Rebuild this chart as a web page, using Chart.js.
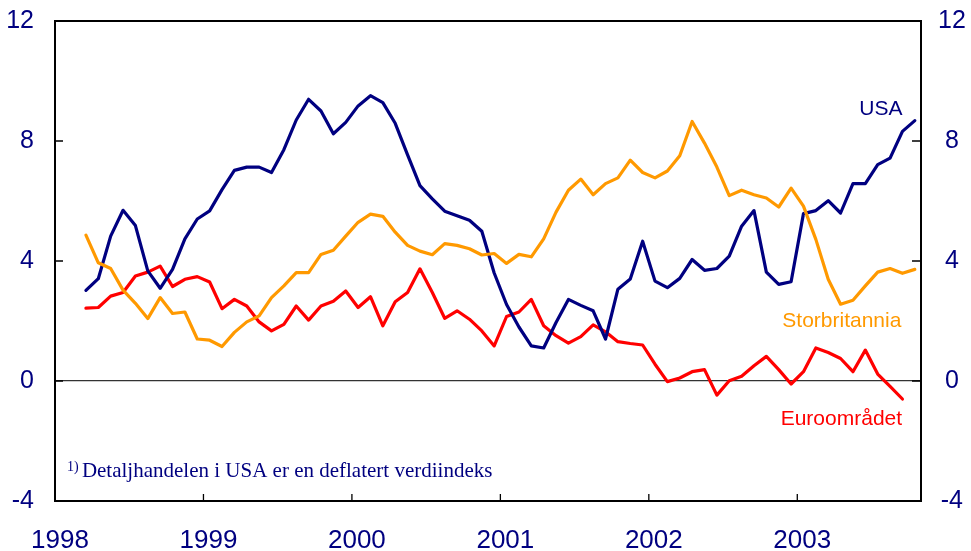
<!DOCTYPE html>
<html>
<head>
<meta charset="utf-8">
<script src="https://cdn.jsdelivr.net/npm/chart.js@4/dist/chart.umd.min.js"></script>
<style>
  html, body { margin: 0; padding: 0; background: #ffffff; }
  #wrap { width: 971px; height: 551px; }
</style>
</head>
<body>
<div id="wrap"><canvas id="c" width="971" height="551"></canvas></div>
<script>
// Monthly series, first observation March 1998
const startYear = 1998;
const startMonth = 3; // March
const yearTicks = [1998, 1999, 2000, 2001, 2002, 2003];
const yTicks = [-4, 0, 4, 8, 12];

const usa = [
  3.02, 3.41, 4.83, 5.69, 5.18, 3.67, 3.09, 3.72, 4.74, 5.40, 5.67, 6.38,
  7.02, 7.13, 7.13, 6.95, 7.71, 8.70, 9.39, 9.00, 8.24, 8.62, 9.17, 9.51,
  9.28, 8.59, 7.54, 6.51, 6.07, 5.66, 5.51, 5.36, 4.99, 3.60, 2.55, 1.80,
  1.17, 1.10, 1.95, 2.72, 2.52, 2.34, 1.40, 3.06, 3.40, 4.66, 3.33, 3.11,
  3.42, 4.05, 3.69, 3.75, 4.16, 5.16, 5.68, 3.63, 3.22, 3.31, 5.58, 5.68,
  6.01, 5.60, 6.58, 6.58, 7.21, 7.43, 8.32, 8.68
];
const storbritannia = [
  4.86, 3.94, 3.75, 3.03, 2.59, 2.08, 2.78, 2.25, 2.30, 1.40, 1.36, 1.15,
  1.62, 1.97, 2.17, 2.78, 3.17, 3.61, 3.61, 4.22, 4.36, 4.83, 5.29, 5.56,
  5.49, 4.96, 4.52, 4.33, 4.21, 4.58, 4.52, 4.41, 4.20, 4.25, 3.92, 4.22,
  4.14, 4.74, 5.63, 6.36, 6.73, 6.21, 6.58, 6.77, 7.36, 6.95, 6.77, 7.00,
  7.51, 8.65, 7.93, 7.13, 6.18, 6.36, 6.21, 6.10, 5.80, 6.43, 5.83, 4.72,
  3.39, 2.56, 2.69, 3.17, 3.63, 3.75, 3.59, 3.72
];
const euroomradet = [
  2.43, 2.45, 2.83, 2.95, 3.50, 3.63, 3.83, 3.15, 3.39, 3.48, 3.30, 2.41,
  2.72, 2.50, 1.97, 1.67, 1.89, 2.50, 2.03, 2.50, 2.66, 3.00, 2.45, 2.81,
  1.84, 2.64, 2.95, 3.74, 2.95, 2.09, 2.34, 2.06, 1.67, 1.17, 2.15, 2.30,
  2.72, 1.84, 1.51, 1.26, 1.48, 1.87, 1.64, 1.31, 1.25, 1.20, 0.56, -0.02,
  0.10, 0.31, 0.38, -0.47, 0.01, 0.16, 0.51, 0.82, 0.38, -0.10, 0.31, 1.10,
  0.95, 0.75, 0.31, 1.03, 0.23, -0.18, -0.60
];

const NAVY = '#000080';
const ORANGE = '#FF9900';
const RED = '#FF0000';

// time position of each monthly observation (middle of month, in years)
function toPoints(values) {
  return values.map((v, i) => ({
    x: startYear + (startMonth - 1 + i + 0.5) / 12,
    y: v
  }));
}

const annotations = [
  { text: 'USA', x: 2003.563, y: 9.07, color: NAVY },
  { text: 'Storbritannia', x: 2003.30, y: 1.99, color: ORANGE },
  { text: 'Euroområdet', x: 2003.297, y: -1.26, color: RED }
];

const overlay = {
  id: 'overlay',
  afterDatasetsDraw(chart) {
    const { ctx, chartArea: a, scales } = chart;
    const xs = scales.x, ys = scales.y;
    ctx.save();
    // frame
    ctx.strokeStyle = '#000';
    ctx.lineWidth = 2;
    ctx.strokeRect(a.left, a.top, a.right - a.left, a.bottom - a.top);
    // inward tick marks
    ctx.lineWidth = 1.3;
    ctx.beginPath();
    yTicks.forEach(v => {
      const p = ys.getPixelForValue(v);
      ctx.moveTo(a.left, p); ctx.lineTo(a.left + 8, p);
      ctx.moveTo(a.right, p); ctx.lineTo(a.right - 9, p);
    });
    yearTicks.forEach(v => {
      const p = xs.getPixelForValue(v);
      ctx.moveTo(p, a.bottom); ctx.lineTo(p, a.bottom - 7);
    });
    ctx.stroke();
    // series labels
    ctx.font = "21px 'Liberation Sans', Arial, sans-serif";
    ctx.textAlign = 'center';
    ctx.textBaseline = 'middle';
    annotations.forEach(t => {
      ctx.fillStyle = t.color;
      ctx.fillText(t.text, xs.getPixelForValue(t.x), ys.getPixelForValue(t.y));
    });
    // footnote
    ctx.fillStyle = NAVY;
    ctx.textAlign = 'left';
    ctx.textBaseline = 'alphabetic';
    const fx = xs.getPixelForValue(1998.08);
    const fy = ys.getPixelForValue(-3.2);
    ctx.font = "14px 'Liberation Serif', 'Times New Roman', serif";
    ctx.fillText('1)', fx, fy - 6);
    ctx.font = "21px 'Liberation Serif', 'Times New Roman', serif";
    ctx.fillText('Detaljhandelen i USA er en deflatert verdiindeks', fx + 15, fy);
    ctx.restore();
  }
};

const tickFont = { family: "'Liberation Sans', Arial, sans-serif", size: 25 };

new Chart(document.getElementById('c'), {
  type: 'line',
  data: {
    datasets: [
      { label: 'Storbritannia', data: toPoints(storbritannia), borderColor: ORANGE },
      { label: 'USA', data: toPoints(usa), borderColor: NAVY },
      { label: 'Euroområdet', data: toPoints(euroomradet), borderColor: RED }
    ]
  },
  options: {
    responsive: false,
    animation: false,
    devicePixelRatio: 1,
    layout: { padding: { top: 21, left: 0, right: 0, bottom: 0 } },
    elements: {
      line: { borderWidth: 3.2, tension: 0, borderJoinStyle: 'round', borderCapStyle: 'round' },
      point: { radius: 0 }
    },
    plugins: { legend: { display: false }, tooltip: { enabled: false } },
    scales: {
      x: {
        type: 'linear',
        min: 1998,
        max: 1998 + 70 / 12,
        grid: { display: false, drawTicks: false },
        border: { display: false },
        ticks: {
          stepSize: 1,
          includeBounds: false,
          autoSkip: false,
          maxRotation: 0,
          padding: 24,
          labelOffset: 5,
          color: NAVY,
          font: { family: "'Liberation Sans', Arial, sans-serif", size: 26 },
          callback: v => String(Math.round(v))
        },
        afterFit: s => { s.height = 50; s.paddingLeft = 0; s.paddingRight = 0; }
      },
      y: {
        position: 'left',
        min: -4, max: 12,
        grid: {
          drawTicks: false,
          lineWidth: 1.3,
          color: c => (c.tick && c.tick.value === 0) ? '#333333' : 'rgba(0,0,0,0)'
        },
        border: { display: false },
        ticks: { stepSize: 4, padding: 21, color: NAVY, font: tickFont, callback: v => String(v) },
        afterFit: s => { s.width = 55; s.paddingTop = 0; s.paddingBottom = 0; }
      },
      y2: {
        position: 'right',
        min: -4, max: 12,
        grid: { display: false, drawTicks: false },
        border: { display: false },
        ticks: { stepSize: 4, padding: 17, crossAlign: 'center', color: NAVY, font: tickFont, callback: v => String(v) },
        afterFit: s => { s.width = 50; s.paddingTop = 0; s.paddingBottom = 0; }
      }
    }
  },
  plugins: [overlay]
});
</script>
</body>
</html>
